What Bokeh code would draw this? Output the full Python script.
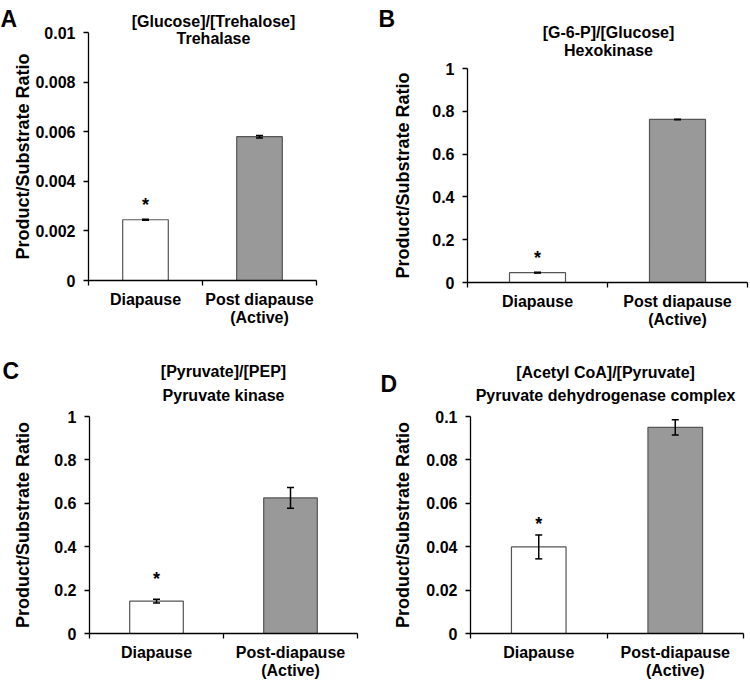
from bokeh.plotting import figure
from bokeh.layouts import column, row
from bokeh.models import (FixedTicker, NumeralTickFormatter, Range1d, ColumnDataSource,
                          Whisker, TeeHead, Label)
from bokeh.embed import file_html
from bokeh.resources import INLINE
from bokeh.core.properties import value

FONT = "Liberation Sans"

# ---------------- data ----------------
cats_A = ["Diapause", "Post diapause\n(Active)"]
vals_A = [0.00245, 0.0058]
errs_A = [0.00002, 0.00005]
yticks_A = [0, 0.002, 0.004, 0.006, 0.008, 0.01]
title_A = ["[Glucose]/[Trehalose]", "Trehalase"]

cats_B = ["Diapause", "Post diapause\n(Active)"]
vals_B = [0.046, 0.762]
errs_B = [0.002, 0.001]
yticks_B = [0, 0.2, 0.4, 0.6, 0.8, 1]
title_B = ["[G-6-P]/[Glucose]", "Hexokinase"]

cats_C = ["Diapause", "Post-diapause\n(Active)"]
vals_C = [0.149, 0.625]
errs_C = [0.009, 0.048]
yticks_C = [0, 0.2, 0.4, 0.6, 0.8, 1]
title_C = ["[Pyruvate]/[PEP]", "Pyruvate kinase"]

cats_D = ["Diapause", "Post-diapause\n(Active)"]
vals_D = [0.0399, 0.095]
errs_D = [0.0055, 0.0035]
yticks_D = [0, 0.02, 0.04, 0.06, 0.08, 0.1]
title_D = ["[Acetyl CoA]/[Pyruvate]", "Pyruvate dehydrogenase complex"]

significant = [True, False]      # asterisk marks a significant difference
bar_colors = ["white", "#999999"]
y_label = "Product/Substrate Ratio"


def make_panel(letter, cats, vals, errs, yticks, fmt, titles, g):
    n = len(cats)
    top = yticks[-1]
    # pixel geometry of the axes inside the figure (frame = whole figure)
    u = (g["xr"] - g["x0"]) / n          # px per category
    s = (g["y0"] - g["yt"]) / top        # px per y unit

    def dx(px):
        return (px - g["x0"]) / u

    def dy(py):
        return (g["y0"] - py) / s

    p = figure(width=g["w"], height=g["h"], output_backend="svg", toolbar_location=None,
               x_range=Range1d(dx(0), dx(g["w"])), y_range=Range1d(dy(g["h"]), dy(0)),
               min_border=0)
    p.outline_line_color = None
    p.xgrid.visible = False
    p.ygrid.visible = False
    p.background_fill_color = "white"
    p.border_fill_color = "white"

    xs = [i + 0.5 for i in range(n)]
    uppers = [v + e for v, e in zip(vals, errs)]
    src = ColumnDataSource(dict(
        x=xs, top=vals, upper=uppers,
        lower=[v - e for v, e in zip(vals, errs)], color=bar_colors))

    p.vbar(x="x", top="top", bottom=0, width=0.4, source=src, fill_color="color",
           line_color="#555555", line_width=1.2)
    head = dict(size=7, line_color="black", line_width=1.5)
    wk = Whisker(source=src, base="x", upper="upper", lower="lower", dimension="height",
                 line_color="black", line_width=1.5,
                 upper_head=TeeHead(**head), lower_head=TeeHead(**head))
    wk.level = "annotation"
    p.add_layout(wk)

    star_src = ColumnDataSource(dict(
        x=[x for x, sg in zip(xs, significant) if sg],
        y=[up + g["star"] / s for up, sg in zip(uppers, significant) if sg],
        t=["*" for sg in significant if sg]))
    p.text(x="x", y="y", text="t", source=star_src, text_align="center",
           text_baseline="middle", text_font=value(FONT), text_font_style="bold",
           text_font_size="18px", text_color="black")

    # y axis, pinned at x = 0
    ya = p.yaxis[0]
    ya.fixed_location = 0
    ya.bounds = (0, top)
    ya.ticker = FixedTicker(ticks=yticks, minor_ticks=[])
    ya.formatter = NumeralTickFormatter(format=fmt)
    ya.axis_label = y_label
    ya.axis_label_text_font = FONT
    ya.axis_label_text_font_style = "bold"
    ya.axis_label_text_font_size = "18px"
    ya.axis_label_text_color = "black"
    ya.axis_label_standoff = g["ls"]
    ya.major_label_text_font = FONT
    ya.major_label_text_font_style = "bold"
    ya.major_label_text_font_size = "16px"
    ya.major_label_text_color = "black"
    ya.major_label_standoff = 8
    ya.major_tick_out = 5
    ya.major_tick_in = 0
    ya.minor_tick_out = 0
    ya.minor_tick_in = 0
    ya.axis_line_color = "black"
    ya.axis_line_width = 1.3
    ya.major_tick_line_color = "black"
    ya.major_tick_line_width = 1.3

    # x axis pinned at y = 0: labels at category centres, ticks at boundaries
    xa = p.xaxis[0]
    xa.fixed_location = 0
    xa.bounds = (0, n)
    xa.ticker = FixedTicker(ticks=xs, minor_ticks=list(range(n + 1)))
    xa.major_label_overrides = {x: c for x, c in zip(xs, cats)}
    xa.major_label_text_font = FONT
    xa.major_label_text_font_style = "bold"
    xa.major_label_text_font_size = "16px"
    xa.major_label_text_color = "black"
    xa.major_label_text_line_height = 1.1
    xa.major_label_standoff = 5
    xa.major_tick_out = 0
    xa.major_tick_in = 0
    xa.minor_tick_out = 5
    xa.minor_tick_in = 0
    xa.minor_tick_line_color = "black"
    xa.minor_tick_line_width = 1.3
    xa.axis_line_color = "black"
    xa.axis_line_width = 1.3

    # two-line title and panel letter
    for txt, ty in zip(titles, g["ty"]):
        p.add_layout(Label(x=dx(g["tx"]), y=dy(ty), text=txt,
                           text_align="center", text_baseline="middle",
                           text_font=FONT, text_font_style="bold",
                           text_font_size="16px", text_color="black"))
    p.add_layout(Label(x=dx(g["lx"]), y=dy(g["ly"]), text=letter,
                       text_align="left", text_baseline="alphabetic",
                       text_font=FONT, text_font_style="bold",
                       text_font_size="23px", text_color="black"))
    return p


gA = dict(w=375, h=340, x0=88, xr=316, y0=280, yt=32, tx=213, ty=[21, 38], lx=0, ly=18,
          star=14, ls=-1)
gB = dict(w=374, h=340, x0=92, xr=372, y0=282, yt=68, tx=233, ty=[32, 50], lx=3, ly=18,
          star=14, ls=16)
gC = dict(w=375, h=342, x0=89, xr=357, y0=293, yt=76, tx=223, ty=[31, 55], lx=2, ly=30,
          star=20, ls=18)
gD = dict(w=374, h=342, x0=95, xr=368, y0=293, yt=76, tx=230, ty=[32, 55], lx=5, ly=43,
          star=11, ls=10)

pA = make_panel("A", cats_A, vals_A, errs_A, yticks_A, "0.[000]", title_A, gA)
pB = make_panel("B", cats_B, vals_B, errs_B, yticks_B, "0.[0]", title_B, gB)
pC = make_panel("C", cats_C, vals_C, errs_C, yticks_C, "0.[0]", title_C, gC)
pD = make_panel("D", cats_D, vals_D, errs_D, yticks_D, "0.[00]", title_D, gD)

layout = column(row(pA, pB), row(pC, pD))
open("out.html", "w").write(file_html(layout, INLINE))
